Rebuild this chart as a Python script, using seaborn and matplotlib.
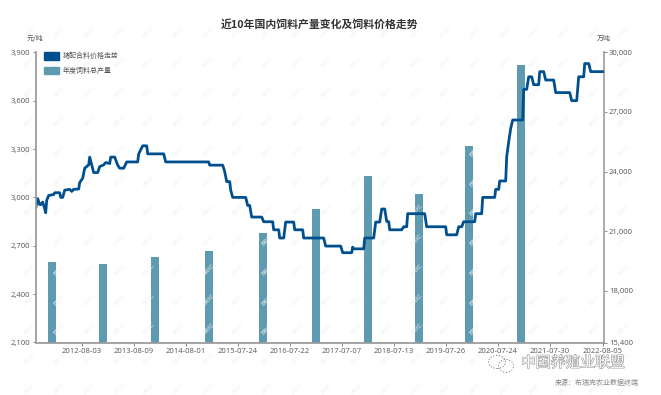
import pandas as pd
import seaborn as sns
import matplotlib.pyplot as plt
import matplotlib.patheffects as pe
from matplotlib.patches import Patch, Ellipse

# weekly price series, x = position on the category axis
week = [0, 2, 4, 5, 7, 9, 10, 11, 13, 18, 19, 24, 25, 27, 29, 34, 36, 38, 43, 44, 47, 49, 53, 54, 56, 58, 62, 64, 68, 70,
        74, 75, 79, 82, 84, 88, 91, 102, 103, 107, 111, 112, 128, 130, 173, 174, 187, 189, 191, 194, 195, 197, 210,
        212, 214, 216, 226, 228, 237, 238, 243, 244, 248, 250, 258, 259, 267, 268, 288, 290, 305, 307, 316, 317, 318,
        328, 329, 338, 340, 344, 346, 349, 351, 353, 354, 366, 368, 371, 372, 389, 391, 410, 411, 421, 423, 426, 428,
        439, 440, 446, 447, 459, 460, 463, 464, 470, 471, 473, 475, 477, 487, 488, 491, 493, 496, 498, 503, 504, 508,
        510, 518, 520, 534, 536, 541, 543, 548, 549, 553, 555, 568]
price = [2934, 2992, 2955, 2955, 2971, 2930, 2905, 2981, 3012, 3018, 3029, 3029, 3000, 3000, 3045, 3050, 3037, 3050,
         3052, 3092, 3119, 3181, 3202, 3250, 3202, 3154, 3154, 3191, 3202, 3216, 3210, 3250, 3250, 3200, 3181, 3181,
         3220, 3220, 3270, 3320, 3320, 3270, 3270, 3220, 3220, 3200, 3200, 3160, 3098, 3098, 3045, 3000, 3000,
         2950, 2950, 2878, 2878, 2849, 2849, 2799, 2799, 2748, 2748, 2847, 2847, 2799, 2799, 2748, 2748, 2698, 2698,
         2657, 2657, 2692, 2681, 2681, 2748, 2748, 2847, 2847, 2928, 2928, 2851, 2849, 2799, 2799, 2818, 2818, 2899,
         2899, 2818, 2818, 2768, 2768, 2818, 2818, 2849, 2849, 2899, 2899, 3000, 3000, 3050, 3050, 3102, 3102, 3253,
         3345, 3428, 3480, 3480, 3670, 3670, 3748, 3748, 3699, 3699, 3780, 3780, 3728, 3728, 3650, 3650, 3600, 3600,
         3748, 3748, 3830, 3830, 3780, 3780]

# yearly output (10k tons)
bar_week = [16, 67, 119, 173, 227, 280, 332, 383, 433, 485]
output = [19437, 19337, 19720, 19990, 20910, 22134, 23764, 22890, 25287, 29346]

tick_week = [46, 98, 150, 202, 254, 306, 358, 410, 462, 514, 567]
tick_date = ["2012-08-03", "2013-08-09", "2014-08-01", "2015-07-24", "2016-07-22", "2017-07-07",
             "2018-07-13", "2019-07-26", "2020-07-24", "2021-07-30", "2022-08-05"]
left_ticks = [2100, 2400, 2700, 3000, 3300, 3600, 3900]
right_ticks = [15400, 18000, 21000, 24000, 27000, 30000]

sns.set_theme(style="white")
plt.rcParams["font.family"] = ["Open Sans", "Noto Sans CJK SC", "DejaVu Sans"]
cjk = ["Noto Sans CJK SC", "DejaVu Sans"]

W, H = 661, 395
fig = plt.figure(figsize=(W / 100, H / 100), dpi=100)
ax = fig.add_axes([35.7 / W, 1 - 342.5 / H, 567.8 / W, 290.2 / H])
ax2 = ax.twinx()
ax.set_zorder(2)
ax.patch.set_visible(False)

df_bar = pd.DataFrame({"week": bar_week, "output": output})
df_line = pd.DataFrame({"week": week, "price": price})

sns.barplot(data=df_bar, x="week", y="output", native_scale=True, color="#5f9bb0", saturation=1,
            width=0.16, linewidth=0, ax=ax2)
sns.lineplot(data=df_line, x="week", y="price", color="#00508f", linewidth=2.0, solid_joinstyle="round", ax=ax)

ax.set_xlim(0, 567.8)
ax.set_ylim(2100, 3900)
ax2.set_ylim(15400, 30000)
ax.set_xlabel("")
ax.set_ylabel("")
ax2.set_xlabel("")
ax2.set_ylabel("")

ax.set_xticks(tick_week, tick_date)
ax.set_yticks(left_ticks, [f"{v:,}" for v in left_ticks])
ax2.set_yticks(right_ticks, [f"{v:,}" for v in right_ticks])
ax.tick_params(axis="both", labelsize=5.5, labelcolor="#555555", color="#888888", length=2, width=0.7, pad=2,
               bottom=True, left=True)
ax2.tick_params(axis="y", labelsize=5.5, labelcolor="#555555", color="#888888", length=2, width=0.7, pad=2,
                right=True)

for a in (ax, ax2):
    a.spines["top"].set_visible(False)
    a.grid(False)
ax.spines["right"].set_visible(False)
ax.spines["left"].set_color("#999999")
ax.spines["bottom"].set_color("#999999")
ax2.spines["left"].set_visible(False)
ax2.spines["bottom"].set_visible(False)
ax2.spines["right"].set_color("#aaaaaa")
ax2.spines["right"].set_linewidth(1.4)

handles = [Patch(color="#00508f", label="猪配合料价格走势"), Patch(color="#5f9bb0", label="年度饲料总产量")]
ax.legend(handles=handles, loc="upper left", bbox_to_anchor=(8 / 567.8, 1.0), frameon=False, borderpad=0,
          handlelength=2.2, handleheight=1.2, handletextpad=0.55, labelspacing=0.9, borderaxespad=0,
          prop={"family": cjk, "size": 5}, labelcolor="#555555")

# faint BRIC watermark
for row in range(13):
    for col in range(21):
        fig.text((30 + col * 29.7) / W, 1 - (32 + row * 29.7) / H, "BRIC", fontsize=4.5, color="#f2f2f2",
                 rotation=45, ha="center", va="center", family="DejaVu Sans", zorder=0)

fig.text(320 / W, 1 - 24 / H, "近10年国内饲料产量变化及饲料价格走势", fontsize=7.8, fontweight="bold", color="#333333",
         ha="center", va="center", family=cjk)
fig.text(35.5 / W, 1 - 39 / H, "元/吨", fontsize=5, color="#555555", ha="center", va="center", family=cjk)
fig.text(604 / W, 1 - 39 / H, "万吨", fontsize=5, color="#555555", ha="center", va="center", family=cjk)
fig.text(573 / W, 1 - 363 / H, "中国养殖业联盟", fontsize=10.7, color="white", ha="center", va="center", family=cjk,
         path_effects=[pe.withStroke(linewidth=0.7, foreground="#888888")])
fig.text(596.5 / W, 1 - 383 / H, "来源：布瑞克农业数据终端", fontsize=5, color="#888888", ha="center", va="center", family=cjk)

# wechat logo next to the account name
for cx, cy, rw, rh in [(497, 362, 17, 13), (506, 366, 15, 13)]:
    fig.add_artist(Ellipse((cx / W, 1 - cy / H), rw / W, rh / H, fill=False, edgecolor="#777777",
                           linewidth=0.6, linestyle=(0, (1.5, 2)), transform=fig.transFigure))

fig.savefig("out.png", dpi=100)
